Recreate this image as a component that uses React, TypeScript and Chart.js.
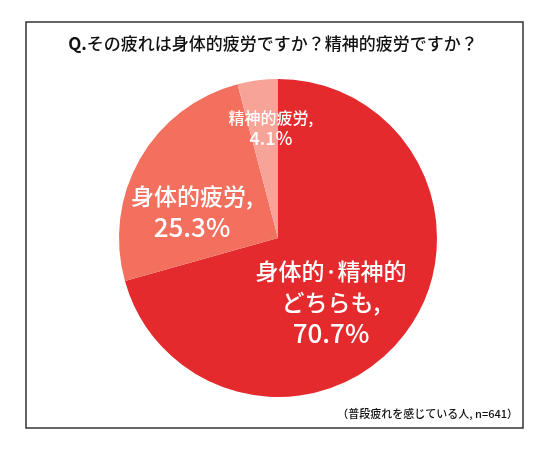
import { useEffect, useRef } from "react";
import { Chart, registerables } from "chart.js";

Chart.register(...registerables);

const title = "Q.その疲れは身体的疲労ですか？精神的疲労ですか？";
const note = "（普段疲れを感じている人, n=641）";
const categories = ["身体的・精神的どちらも", "身体的疲労", "精神的疲労"];
const values = [70.7, 25.3, 4.1];
const labelLines = [
  ["身体的·精神的", "どちらも,"],
  ["身体的疲労,"],
  ["精神的疲労,"],
];
const colors = ["#e42a2d", "#f3705f", "#f8a398"];

const FONT = '"Noto Sans CJK JP", "Noto Sans", sans-serif';

// label placement relative to the pie centre, and font sizes (name line / value line)
const labelStyle = [
  { dx: 53, dy: 64, size: 23, valueSize: 26, gap: 31 },
  { dx: -86, dy: -26, size: 23, valueSize: 26, gap: 31 },
  { dx: -7, dy: -110, size: 16, valueSize: 18, gap: 21 },
];

const decorations = {
  id: "decorations",
  beforeDraw(chart: Chart) {
    const ctx = chart.ctx;
    ctx.save();
    ctx.fillStyle = "#ffffff";
    ctx.fillRect(0, 0, chart.width, chart.height);
    ctx.strokeStyle = "#333333";
    ctx.lineWidth = 1.5;
    ctx.strokeRect(26, 22, 497, 406);

    ctx.fillStyle = "#111111";
    ctx.textBaseline = "middle";
    ctx.font = `bold 17px ${FONT}`;
    const q = "Q.";
    const rest = title.slice(2);
    const qw = ctx.measureText(q).width;
    ctx.font = `500 17px ${FONT}`;
    const rw = ctx.measureText(rest).width;
    const x0 = 273 - (qw + rw) / 2;
    ctx.textAlign = "left";
    ctx.font = `bold 17px ${FONT}`;
    ctx.fillText(q, x0, 44);
    ctx.font = `500 17px ${FONT}`;
    ctx.fillText(rest, x0 + qw, 44);

    ctx.font = `500 11px ${FONT}`;
    ctx.textAlign = "right";
    ctx.fillText(note, 518, 414);
    ctx.restore();
  },
  afterDraw(chart: Chart) {
    const ctx = chart.ctx;
    const meta = chart.getDatasetMeta(0);
    ctx.save();
    ctx.fillStyle = "#ffffff";
    ctx.textAlign = "center";
    ctx.textBaseline = "middle";
    meta.data.forEach((arc: any, i: number) => {
      const s = labelStyle[i];
      const cx = arc.x + s.dx;
      const lines = labelLines[i];
      const total = lines.length + 1;
      let y = arc.y + s.dy - ((total - 1) * s.gap) / 2;
      ctx.font = `500 ${s.size}px ${FONT}`;
      lines.forEach((l) => {
        ctx.fillText(l, cx, y);
        y += s.gap;
      });
      ctx.font = `500 ${s.valueSize}px ${FONT}`;
      ctx.fillText(`${values[i]}%`, cx, y);
    });
    ctx.restore();
  },
};

export default function App() {
  const ref = useRef<HTMLCanvasElement>(null);

  useEffect(() => {
    if (!ref.current) return;
    const chart = new Chart(ref.current, {
      type: "pie",
      data: {
        labels: categories,
        datasets: [
          {
            data: values,
            backgroundColor: colors,
            borderWidth: 0,
          },
        ],
      },
      options: {
        responsive: false,
        animation: false,
        layout: { padding: { top: 79, bottom: 53, left: 119, right: 113 } },
        plugins: {
          legend: { display: false },
          tooltip: { enabled: false },
          title: { display: false },
        },
      },
      plugins: [decorations],
    });
    return () => chart.destroy();
  }, []);

  return (
    <div style={{ position: "fixed", left: 0, top: 0, width: 550, height: 450, background: "#fff" }}>
      <canvas ref={ref} width={550} height={450} style={{ width: 550, height: 450 }} />
    </div>
  );
}
